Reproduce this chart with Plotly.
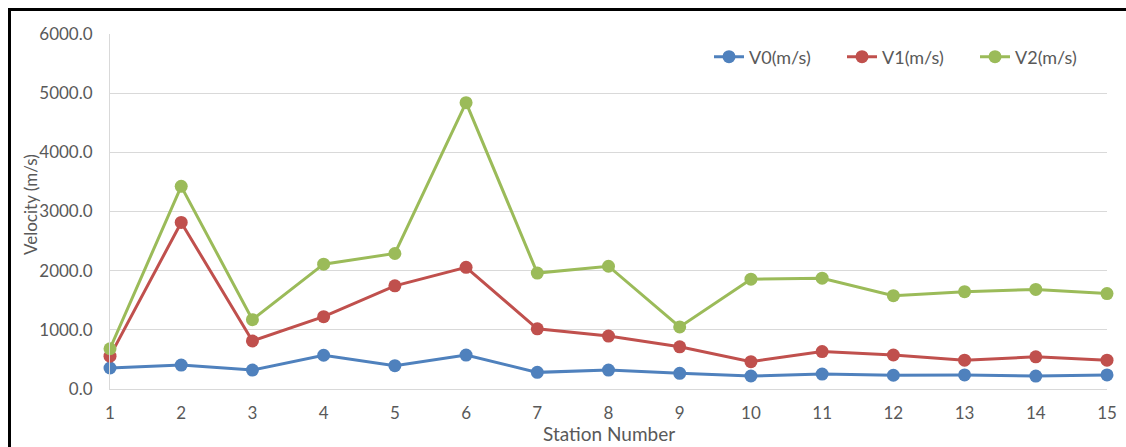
import plotly.graph_objects as go

stations = list(range(1, 16))
v0 = [355, 405, 320, 570, 395, 573, 281, 320, 265, 220, 252, 232, 238, 218, 238]
v1 = [555, 2815, 812, 1222, 1743, 2057, 1017, 895, 713, 462, 632, 575, 487, 543, 487]
v2 = [680, 3425, 1172, 2110, 2290, 4840, 1960, 2075, 1050, 1857, 1873, 1578, 1645, 1683, 1612]
series_names = ["V0(m/s)", "V1(m/s)", "V2(m/s)"]
colors = ["#4F81BD", "#C0504D", "#9BBB59"]
y_ticks = [0, 1000, 2000, 3000, 4000, 5000, 6000]
y_tick_text = ["0.0", "1000.0", "2000.0", "3000.0", "4000.0", "5000.0", "6000.0"]
x_title = "Station Number"
y_title = "Velocity (m/s)"

FONT = "Lato"
fig = go.Figure()
for name, vals, col in zip(series_names, [v0, v1, v2], colors):
    fig.add_trace(go.Scatter(
        x=stations, y=vals, name=name, mode="lines+markers",
        line=dict(color=col, width=3),
        marker=dict(color=col, size=13),
        cliponaxis=False,
    ))

W, H = 1126, 447
ml, mr, mt, mb = 110, 19, 34, 58
pw, ph = W - ml - mr, H - mt - mb

def px_x(p):
    return (p - ml) / pw

def px_y(p):
    return (H - mb - p) / ph

fig.update_layout(
    width=W, height=H,
    margin=dict(l=ml, r=mr, t=mt, b=mb, autoexpand=False),
    paper_bgcolor="white", plot_bgcolor="white",
    font=dict(family=FONT, color="#595959", size=17),
    showlegend=True,
    legend=dict(
        orientation="h", x=px_x(709), xanchor="left",
        y=px_y(57), yanchor="middle",
        font=dict(family=FONT, size=18, color="#595959"),
        entrywidth=88, bgcolor="rgba(0,0,0,0)",
    ),
    xaxis=dict(
        range=[1, 15], tickmode="array", tickvals=stations,
        ticktext=[str(s) for s in stations],
        showgrid=False, zeroline=False, automargin=False,
        showline=True, linecolor="#D9D9D9", linewidth=1,
        ticks="outside", ticklen=9, tickcolor="rgba(0,0,0,0)",
        tickfont=dict(family=FONT, size=17, color="#595959"),
    ),
    yaxis=dict(
        range=[0, 6000], tickmode="array", tickvals=y_ticks, ticktext=y_tick_text,
        showgrid=True, gridcolor="#D9D9D9", gridwidth=1, zeroline=False, automargin=False,
        showline=True, linecolor="#D9D9D9", linewidth=1,
        ticks="outside", ticklen=13, tickcolor="rgba(0,0,0,0)",
        tickfont=dict(family=FONT, size=17, color="#595959"),
    ),
    annotations=[
        dict(text=x_title, xref="paper", yref="paper", x=px_x(609), y=px_y(433),
             xanchor="center", yanchor="middle", showarrow=False,
             font=dict(family=FONT, size=19, color="#595959")),
        dict(text=y_title, xref="paper", yref="paper", x=px_x(30), y=px_y(205),
             xanchor="center", yanchor="middle", showarrow=False, textangle=-90,
             font=dict(family=FONT, size=17, color="#595959")),
    ],
    shapes=[
        dict(type="line", xref="paper", yref="paper",
             x0=px_x(8), x1=px_x(W), y0=px_y(9.5), y1=px_y(9.5),
             line=dict(color="black", width=3), layer="above"),
        dict(type="line", xref="paper", yref="paper",
             x0=px_x(9.5), x1=px_x(9.5), y0=px_y(8), y1=px_y(H),
             line=dict(color="black", width=3), layer="above"),
    ],
)

fig.write_html(
    "out.html",
    config={"displayModeBar": False},
    post_script="document.documentElement.style.overflow='hidden';"
                "document.body.style.margin='0';document.body.style.overflow='hidden';",
)
